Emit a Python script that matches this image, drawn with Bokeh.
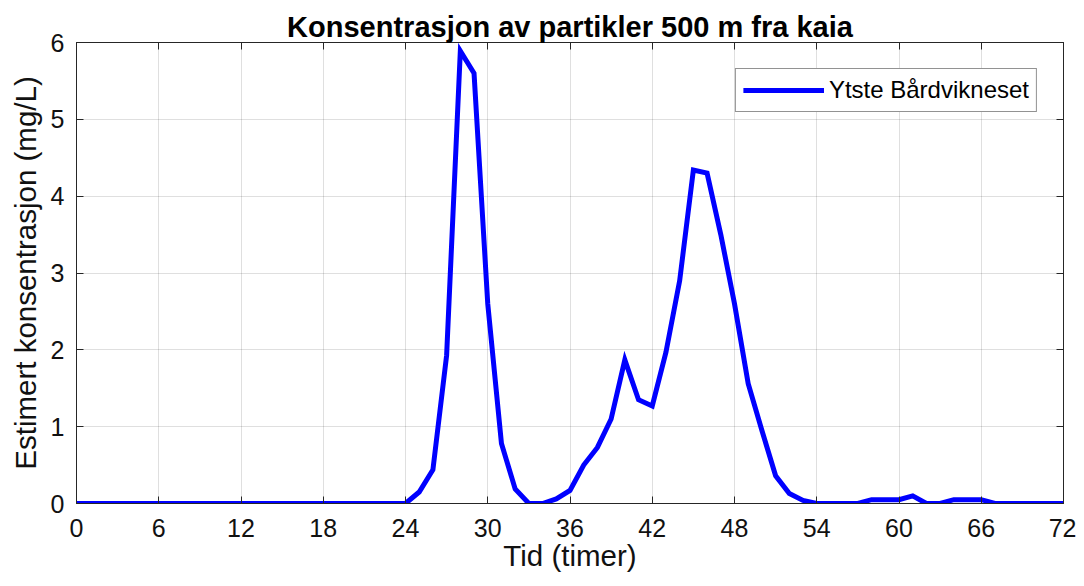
from bokeh.plotting import figure
from bokeh.models import LinearAxis, FixedTicker, Legend, LegendItem, Range1d, CustomLabelingPolicy
from bokeh.embed import file_html
from bokeh.resources import INLINE

title_text = "Konsentrasjon av partikler 500 m fra kaia"
x_label = "Tid (timer)"
y_label = "Estimert konsentrasjon (mg/L)"
series_name = "Ytste Bårdvikneset"

hours = list(range(0, 73))
conc = [0.0] * 24 + [
    0.0, 0.15, 0.44, 1.93, 5.89, 5.60, 2.60, 0.78, 0.19, 0.0,   # 24-33
    0.0, 0.06, 0.17, 0.50, 0.73, 1.10, 1.87, 1.35, 1.27, 1.97,  # 34-43
    2.90, 4.34, 4.30, 3.50, 2.60, 1.56, 0.95, 0.36, 0.13, 0.04, # 44-53
    0.0, 0.0, 0.0, 0.0, 0.05, 0.05, 0.05, 0.10, 0.0, 0.0,       # 54-63
    0.05, 0.05, 0.05, 0.0, 0.0, 0.0, 0.0, 0.0, 0.0,             # 64-72
]
x_ticks = list(range(0, 73, 6))
y_ticks = [0, 1, 2, 3, 4, 5, 6]

FONT = "Liberation Sans"
TXT = "#111111"

p = figure(width=1076, height=578, output_backend="svg", toolbar_location=None,
           x_range=Range1d(0, 72), y_range=Range1d(0, 6),
           min_border_left=76, min_border_right=13, min_border_top=42, min_border_bottom=75)
p.background_fill_color = "white"
p.border_fill_color = "white"
p.outline_line_color = "#262626"
p.outline_line_width = 1

p.title.text = title_text
p.title.text_font = FONT
p.title.text_font_size = "29px"
p.title.text_font_style = "bold"
p.title.text_color = "black"
p.title.align = "center"
p.title.standoff = 0

no_labels = CustomLabelingPolicy(code="""
try { for (const i of [...indices.ones()]) { indices.unset(i) } } catch (e) {}
return indices
""")

def style_axis(ax, show_labels=True):
    ax.axis_line_color = "#262626"
    ax.axis_line_width = 1
    ax.major_tick_in = 7
    ax.major_tick_out = 0
    ax.major_tick_line_color = "#262626"
    ax.minor_tick_line_color = None
    ax.major_label_text_font = FONT
    ax.major_label_text_color = TXT
    ax.axis_label_text_font = FONT
    ax.axis_label_text_font_style = "normal"
    ax.axis_label_text_color = TXT
    if not show_labels:
        ax.major_label_policy = no_labels
        ax.major_label_text_font_size = "0px"
        ax.major_label_standoff = 0
        ax.axis_label_standoff = 0

xa = p.xaxis[0]
ya = p.yaxis[0]
xa.ticker = FixedTicker(ticks=x_ticks)
ya.ticker = FixedTicker(ticks=y_ticks)
style_axis(xa)
style_axis(ya)
xa.major_label_text_font_size = "25px"
ya.major_label_text_font_size = "25px"
xa.major_label_standoff = 15
ya.major_label_standoff = 12
xa.axis_label = x_label
ya.axis_label = y_label
xa.axis_label_text_font_size = "29.5px"
ya.axis_label_text_font_size = "29.5px"
xa.axis_label_standoff = -1
ya.axis_label_standoff = 6

top_ax = LinearAxis(ticker=FixedTicker(ticks=x_ticks))
right_ax = LinearAxis(ticker=FixedTicker(ticks=y_ticks))
style_axis(top_ax, show_labels=False)
style_axis(right_ax, show_labels=False)
p.add_layout(top_ax, "above")
p.add_layout(right_ax, "right")

p.xgrid.ticker = FixedTicker(ticks=x_ticks)
p.ygrid.ticker = FixedTicker(ticks=y_ticks)
for g in (p.xgrid[0], p.ygrid[0]):
    g.grid_line_color = "#262626"
    g.grid_line_alpha = 0.15
    g.grid_line_width = 1

r = p.line(hours, conc, line_color="#0000ff", line_width=5, line_join="miter")

legend = Legend(items=[LegendItem(label=series_name, renderers=[r])],
                location="top_right", margin=26, padding=7, spacing=0,
                label_text_font=FONT, label_text_font_size="24px", label_text_color="black",
                glyph_width=81, glyph_height=26, label_standoff=5, label_height=26,
                border_line_color="#262626", border_line_width=1,
                background_fill_color="white", background_fill_alpha=1)
p.add_layout(legend, "center")

open("out.html", "w").write(file_html(p, INLINE))
